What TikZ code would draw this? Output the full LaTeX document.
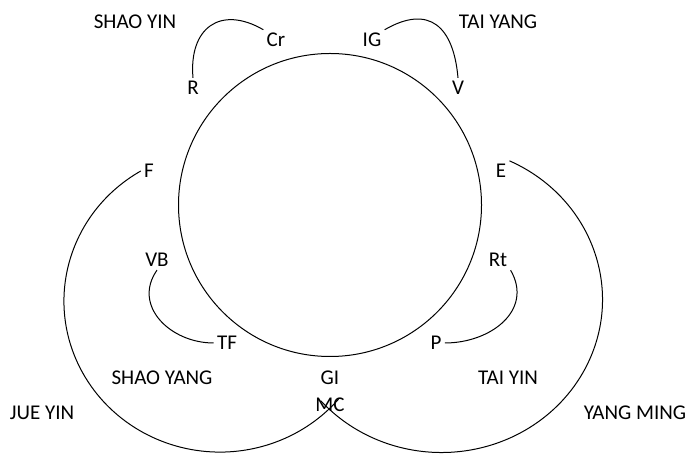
\documentclass[tikz,border=0pt]{standalone}
\usepackage{fontspec}
\setmainfont{Carlito}
\usepackage{tikz}
\usetikzlibrary{positioning}

\begin{document}
\begin{tikzpicture}[x=0.5pt, y=0.5pt,
    lbl/.style={inner sep=1.5pt, font=\fontsize{10.5}{12}\selectfont},
    link/.style={line width=0.5pt}]

    \useasboundingbox (0,0) rectangle (689,454);

    % 1. Central circle
    \coordinate (hub) at (330,249);
    \draw[link] (hub) circle[radius=151.5];

    % 2. Point labels
    \node[lbl] (R)  at (193,366) {R};
    \node[lbl] (Cr) at (276,414) {Cr};
    \node[lbl] (IG) at (372,414) {IG};
    \node[lbl] (V)  at (458,366) {V};
    \node[lbl] (F)  at (149,283) {F};
    \node[lbl] (E)  at (501,283) {E};
    \node[lbl] (VB) at (157,194) {VB};
    \node[lbl] (Rt) at (498,194) {Rt};
    \node[lbl] (TF) at (227,111) {TF};
    \node[lbl] (P)  at (436,111) {P};
    \node[lbl] (GI) at (330,76) {GI};
    \node[lbl] (MC) at (330,49) {MC};

    % 3. Channel names
    \node[lbl] (shaoyin)  at (135,432) {SHAO YIN};
    \node[lbl] (taiyang)  at (498,432) {TAI YANG};
    \node[lbl] (shaoyang) at (162,76)  {SHAO YANG};
    \node[lbl] (taiyin)   at (508,76)  {TAI YIN};
    \node[lbl] (jueyin)   at (42,41)   {JUE YIN};
    \node[lbl] (yangming) at (635,41)  {YANG MING};

    % 4. Small loops
    \draw[link] (R.north) to[out=95, in=150, looseness=1.5] (Cr.north west);
    \draw[link] (IG.north east) to[out=30, in=95, looseness=1.5] (V.north);
    \draw[link] (VB.south) to[out=-125, in=180, looseness=1.2] (TF.west);
    \draw[link] (Rt.south east) to[out=-60, in=0, looseness=1.2] (P.east);

    % 5. Large loops meeting at MC
    \draw[link] (F.west) arc[start angle=120.5, end angle=319.5, x radius=156, y radius=151];
    \draw[link] (E.north east) arc[start angle=65, end angle=-138.6, x radius=161, y radius=153];

\end{tikzpicture}
\end{document}
